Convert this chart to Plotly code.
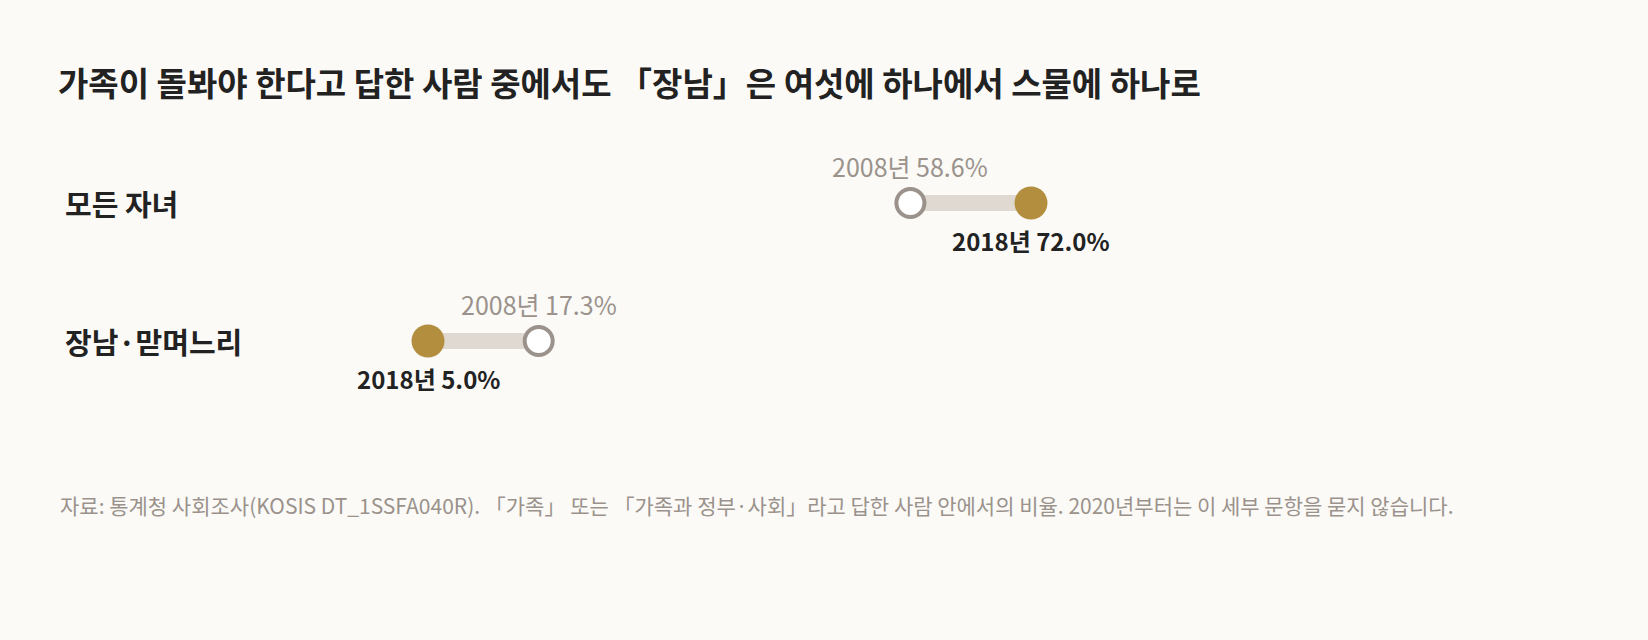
import plotly.graph_objects as go

# data
groups = ['모든 자녀', '장남·맏며느리']
y2008 = [58.6, 17.3]
y2018 = [72.0, 5.0]

title = '가족이 돌봐야 한다고 답한 사람 중에서도 「장남」은 여섯에 하나에서 스물에 하나로'
note = ('자료: 통계청 사회조사(KOSIS DT_1SSFA040R). 「가족」 또는 「가족과 정부·사회」라고 답한 사람 안에서의 비율. '
        '2020년부터는 이 세부 문항을 묻지 않습니다.')

FONT = 'Noto Sans CJK KR'
BG = '#fbfaf7'
GOLD = '#b38e3e'
GRAY = '#9a928b'
BAR = '#e0d9d1'
DARK = '#222222'

fig = go.Figure()

# connecting bars
for g, a, b in zip(groups, y2008, y2018):
    fig.add_trace(go.Scatter(x=[a, b], y=[g, g], mode='lines',
                             line=dict(color=BAR, width=16),
                             hoverinfo='skip', showlegend=False))

# 2008 open dots
fig.add_trace(go.Scatter(x=y2008, y=groups, mode='markers', name='2008',
                         marker=dict(size=28, color='white',
                                     line=dict(color=GRAY, width=4)),
                         showlegend=False))
# 2018 filled dots
fig.add_trace(go.Scatter(x=y2018, y=groups, mode='markers', name='2018',
                         marker=dict(size=33, color=GOLD),
                         showlegend=False))

# value labels
for g, a, b in zip(groups, y2008, y2018):
    fig.add_annotation(x=a, y=g, text=f'2008년 {a:.1f}%', showarrow=False,
                       yshift=37, font=dict(family=FONT, size=25, color=GRAY))
    fig.add_annotation(x=b, y=g, text=f'<b>2018년 {b:.1f}%</b>', showarrow=False,
                       yshift=-37, font=dict(family=FONT, size=24, color=DARK))

# row labels
for g in groups:
    fig.add_annotation(x=-0.3556, xref='paper', y=g, yref='y', text=f'<b>{g}</b>',
                       showarrow=False, xanchor='left',
                       font=dict(family=FONT, size=29, color=DARK))

# footnote
fig.add_annotation(x=-0.361, xref='paper', y=-0.344, yref='paper', text=note,
                   showarrow=False, xanchor='left', yanchor='middle',
                   font=dict(family=FONT, size=21, color=GRAY))

fig.update_layout(
    width=1648, height=640,
    paper_bgcolor=BG, plot_bgcolor=BG,
    margin=dict(l=383, r=365, t=134, b=230),
    title=dict(text=f'<b>{title}</b>', x=58 / 1648, xanchor='left',
               y=1 - 84 / 640, yanchor='middle',
               font=dict(family=FONT, size=33, color=DARK)),
    xaxis=dict(range=[0, 100], visible=False),
    yaxis=dict(range=[1.5, -0.5], visible=False),
    font=dict(family=FONT),
)

fig.write_html('out.html', config={'displayModeBar': False},
               post_script="document.body.style.margin='0';"
                           "document.body.style.background='#fbfaf7';")
